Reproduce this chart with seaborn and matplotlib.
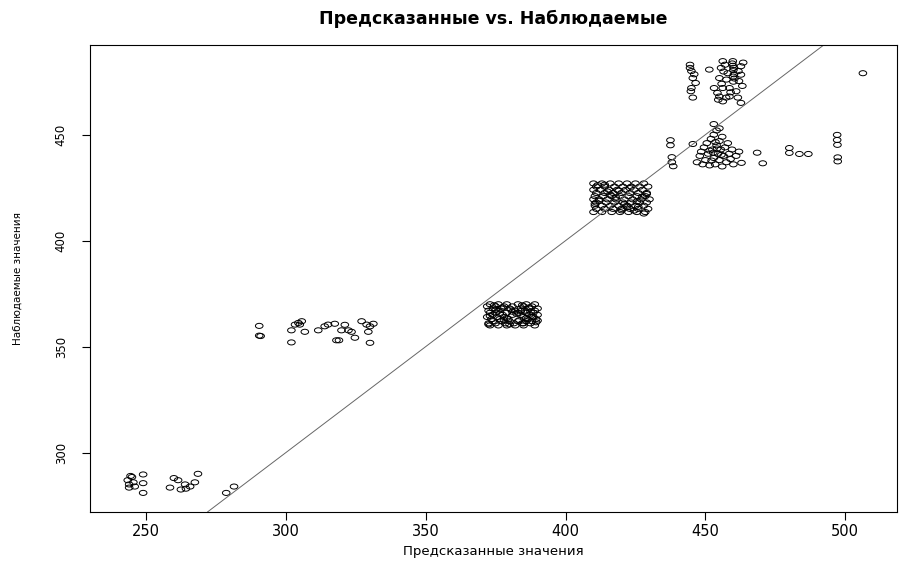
import matplotlib
matplotlib.use("Agg")
import matplotlib.pyplot as plt
import numpy as np
import pandas as pd
import seaborn as sns
from matplotlib.path import Path
from matplotlib.transforms import Affine2D

# group around 245-282 predicted
pred_a = [243.5, 244, 244, 244.5, 245, 245.5, 246, 249, 249, 249,
          258.6, 260, 261.5, 262.5, 264, 264.3, 265.8, 267.5, 268.6, 278.7, 281.5]
obs_a = [287, 285, 283.5, 289, 288.5, 286, 284, 289.7, 285.6, 281,
         283.5, 288, 287, 282.6, 285, 283, 284, 286, 290, 281, 284]

# group around 290-331 predicted
pred_b = [290.5, 290.5, 291, 302, 302, 303.3, 304.5, 305.7, 305, 306.8,
          311.6, 313.9, 315.1, 317.5, 318.1, 319, 319.9, 321.1, 322.4, 323.5,
          324.7, 327.1, 328.9, 330.1, 331.3, 329.5, 330.1]
obs_b = [359.8, 355.2, 355, 357.7, 352, 360.4, 361.2, 362, 360.4, 357,
         357.7, 359.6, 360.4, 360.8, 353, 353, 357.7, 360.3, 357.7, 357,
         354.2, 362, 360.4, 359.6, 360.8, 357, 351.8]

# dense block around 372-390 predicted
pred_c = [373, 376, 379, 383, 386, 389,
          372, 375, 378, 381, 385, 388,
          374, 377, 380, 384, 387, 390,
          372.5, 376, 382, 385.5, 389,
          373, 375, 379, 383, 386, 388.5,
          374, 377.5, 381, 384, 387, 390,
          372, 375.5, 378, 385, 388,
          373.5, 376.5, 379.5, 386.5, 389.5,
          374, 377, 380, 383, 386, 388,
          372.5, 375, 378.5, 381.5, 384.5, 387.5,
          373, 376, 379, 382, 385, 389,
          374.5, 377.5, 380.5, 384.5, 387.5, 373, 378, 382.5, 386, 389.5,
          375, 380, 383.5, 387, 376.5, 381, 385, 388.5, 372.5, 379, 384, 390]
obs_c = [370, 370, 370, 370, 370, 370,
         369, 369, 369, 369, 369, 369,
         368, 368, 368, 368, 368, 368,
         367, 367, 367, 367, 367,
         366, 366, 366, 366, 366, 366,
         365, 365, 365, 365, 365, 365,
         364, 364, 364, 364, 364,
         363, 363, 363, 363, 363,
         362, 362, 362, 362, 362, 362,
         361, 361, 361, 361, 361, 361,
         360, 360, 360, 360, 360, 360,
         369.5, 368.5, 367.5, 369.5, 366.5, 364.5, 362.5, 365.5, 363.5, 361.5,
         367.5, 360.5, 362.5, 368.5, 365.5, 366.5, 361, 364, 360.5, 363.5, 366.8, 362.3]

# dense block around 410-430 predicted
pred_d = [410, 413, 416, 419, 422, 425, 428,
          411, 414, 417.5, 420.5, 423.5, 426.5, 429.5,
          410, 412.5, 415.5, 418.5, 421.5, 424.5, 427.5,
          411, 414, 417, 420, 423, 426, 429,
          410.5, 413.5, 416.5, 419.5, 422.5, 425.5, 428.5,
          410, 412, 415, 418, 421, 424, 427, 430,
          411, 414.5, 417.5, 420.5, 423.5, 426.5, 429,
          410.5, 413, 416, 419, 422, 425, 428,
          411, 414, 417, 420, 423, 426, 429.5,
          410, 413, 416.5, 419.5, 422.5, 425.5, 428.5,
          411.5, 415, 418, 421, 424.5, 427.5, 412, 416, 420, 423, 426, 429,
          410.5, 414, 419, 422, 425.5, 428]
obs_d = [427, 427, 427, 427, 427, 427, 427,
         425.5, 425.5, 425.5, 425.5, 425.5, 425.5, 425.5,
         424, 424, 424, 424, 424, 424, 424,
         422.5, 422.5, 422.5, 422.5, 422.5, 422.5, 422.5,
         421, 421, 421, 421, 421, 421, 421,
         419.5, 419.5, 419.5, 419.5, 419.5, 419.5, 419.5, 419.5,
         418, 418, 418, 418, 418, 418, 418,
         416.5, 416.5, 416.5, 416.5, 416.5, 416.5, 416.5,
         415, 415, 415, 415, 415, 415, 415,
         413.5, 413.5, 413.5, 413.5, 413.5, 413.5, 413.5,
         426.2, 423.2, 420.3, 417.2, 414.2, 420.8, 418.8, 421.7, 414.3, 424.8, 416, 422,
         417.4, 426.4, 423.6, 415.8, 418.5, 412.8]

# upper group, observed 465-485
pred_e = [444.5, 444.5, 445, 445.5, 445, 444.8, 445.5, 446.5, 446, 451.4,
          453.1, 454.3, 455, 456.2, 455, 455.6, 456.2, 456.2, 457.4, 458.6,
          458.6, 459.8, 459.8, 460, 460.2, 460.4, 460, 462.7, 462.7, 462,
          461, 461.6, 462.7, 457, 458, 457.5, 455.8, 459, 463.5, 463.2,
          459.6, 460.1, 459.9, 456.5, 461.8, 454.6]
obs_e = [483, 481.5, 480, 476.7, 472, 470.5, 467.5, 474.4, 478.5, 480.7,
         472, 469.7, 468, 465.7, 476.7, 481.5, 484.7, 472, 467.5, 472,
         468, 484.7, 482.5, 480.5, 478.5, 476.5, 475, 482.3, 478.3, 475.3,
         470.5, 467.5, 465, 483, 479, 476, 474, 470, 484, 473,
         483.6, 481.5, 477.4, 479.8, 480, 466.5]

# lower group, observed 435-455
pred_f = [437.5, 437.5, 438, 438, 438.5, 445.5, 447, 448, 448.5, 449,
          449.5, 450, 450.5, 451, 451.5, 452, 452.5, 453, 453, 453.5,
          454, 454.5, 455, 455, 455.5, 456, 456, 456.5, 457, 457.5,
          458, 458.5, 459, 459.5, 460, 461, 462, 462.9, 454, 453, 455,
          468.5, 470.5, 451.5, 452.8, 454.2, 455.7, 453.6, 452.2]
obs_f = [447.4, 445, 439.4, 437, 435.1, 445.6, 437, 440, 442, 436,
         444, 438, 446, 441, 435.5, 448, 443, 439, 450, 436,
         445, 441, 447, 438, 443, 449, 435, 440, 444, 437,
         446, 441, 438.5, 443, 436, 440, 442, 436.7, 452, 455, 453,
         441.5, 436.5, 442.5, 441.5, 443.5, 440.5, 446.5, 437.8]

# scattered points to the right
pred_g = [480, 480, 483.6, 486.8, 497.1, 497.1, 497.2, 497.3, 497.3, 506.3]
obs_g = [443.7, 441.4, 440.9, 440.9, 449.9, 447.5, 445.2, 439.3, 437.4, 479]

x_ticks = [250, 300, 350, 400, 450, 500]
y_ticks = [300, 350, 400, 450]

df = pd.DataFrame({
    "pred": pred_a + pred_b + pred_c + pred_d + pred_e + pred_f + pred_g,
    "obs": obs_a + obs_b + obs_c + obs_d + obs_e + obs_f + obs_g,
})

sns.set_style("ticks", {"axes.edgecolor": "black", "xtick.color": "black",
                        "ytick.color": "black", "text.color": "black",
                        "axes.labelcolor": "black"})
plt.rcParams["font.family"] = ["DejaVu Sans"]

fig = plt.figure(figsize=(8.99, 5.62), dpi=100)
ax = fig.add_axes([0.1001, 0.089, 0.8977, 0.8309])

# R-style open circles, slightly wider than tall like the reference
ellipse = Path.unit_circle().transformed(Affine2D().scale(1.5, 1.0))
sns.scatterplot(data=df, x="pred", y="obs", ax=ax, marker=ellipse, s=30,
                facecolors="none", edgecolors="black", linewidth=0.7)
ax.axline((300, 300), slope=1, color="#666666", linewidth=0.7)

ax.set_xlim(230, 518.5)
ax.set_ylim(272, 492.3)
ax.set_xticks(x_ticks)
ax.set_yticks(y_ticks)
ax.tick_params(axis="x", direction="out", length=6, width=0.8, labelsize=10.5, pad=3)
ax.tick_params(axis="y", direction="out", length=6, width=0.8, labelsize=8.5, pad=10)
for lab in ax.get_yticklabels():
    lab.set_rotation(90)
    lab.set_va("center")
for s in ax.spines.values():
    s.set_visible(True)
    s.set_linewidth(0.8)

ax.set_title("Предсказанные vs. Наблюдаемые", fontsize=12.5, fontweight="bold",
             pad=15, color="black")
ax.set_xlabel("Предсказанные значения", fontsize=9.5)
ax.set_ylabel("Наблюдаемые значения", fontsize=7.5)
ax.xaxis.set_label_coords(0.5, -0.07)
ax.yaxis.set_label_coords(-0.083, 0.5)

fig.savefig("out.png", dpi=100)
